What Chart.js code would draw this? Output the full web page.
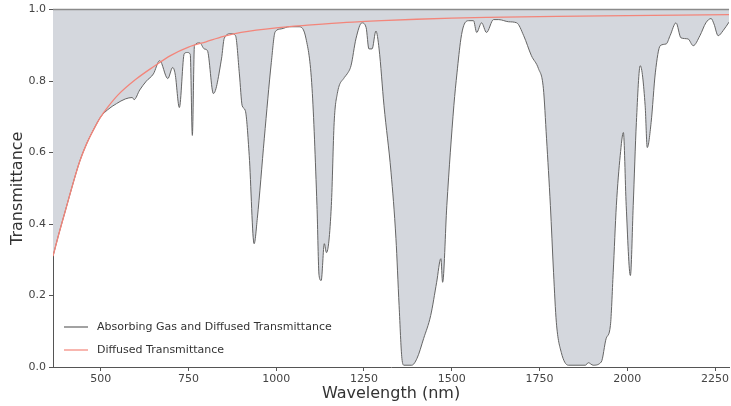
<!DOCTYPE html>
<html>
<head>
<meta charset="utf-8">
<script src="https://cdn.jsdelivr.net/npm/chart.js@4.4.0/dist/chart.umd.min.js"></script>
<style>
  html, body { margin: 0; padding: 0; background: #fff; overflow: hidden; }
  #wrap { width: 731px; height: 406px; }
</style>
</head>
<body>
<div id="wrap"><canvas id="trans"></canvas></div>
<script>
// transmittance with gas absorption bands (nm, fraction)
var absWavelength = [364, 380, 400, 420, 440, 460, 480, 500, 520, 545, 570, 590, 595, 611, 630, 650, 668, 691, 705, 712, 724, 738, 747, 755, 761, 767, 782, 795, 804, 821, 844, 852, 872, 884, 895, 903, 912, 923, 937, 946, 966, 986, 997, 1014, 1037, 1065, 1085, 1102, 1116, 1122, 1128, 1137, 1143, 1157, 1165, 1174, 1194, 1202, 1213, 1227, 1244, 1256, 1264, 1273, 1284, 1293, 1307, 1327, 1341, 1350, 1358, 1364, 1386, 1401, 1420, 1440, 1457, 1469, 1474, 1486, 1506, 1515, 1526, 1534, 1548, 1562, 1571, 1585, 1599, 1619, 1634, 1662, 1685, 1705, 1727, 1747, 1761, 1770, 1781, 1790, 1798, 1812, 1832, 1881, 1889, 1903, 1926, 1940, 1952, 1960, 1969, 1980, 1989, 1997, 2009, 2017, 2026, 2037, 2051, 2057, 2068, 2080, 2094, 2111, 2122, 2139, 2153, 2173, 2188, 2207, 2224, 2239, 2247, 2259, 2273, 2290];
var absTransmittance = [0.31, 0.37, 0.44, 0.51, 0.575, 0.625, 0.665, 0.70, 0.72, 0.737, 0.75, 0.754, 0.748, 0.775, 0.80, 0.82, 0.857, 0.807, 0.838, 0.82, 0.726, 0.877, 0.88, 0.875, 0.648, 0.90, 0.907, 0.89, 0.885, 0.765, 0.862, 0.92, 0.933, 0.927, 0.82, 0.731, 0.717, 0.592, 0.345, 0.415, 0.64, 0.852, 0.938, 0.946, 0.952, 0.952, 0.918, 0.78, 0.452, 0.256, 0.242, 0.345, 0.32, 0.452, 0.684, 0.765, 0.81, 0.82, 0.843, 0.918, 0.963, 0.95, 0.89, 0.89, 0.94, 0.89, 0.731, 0.545, 0.36, 0.172, 0.024, 0.005, 0.005, 0.024, 0.08, 0.144, 0.237, 0.303, 0.237, 0.452, 0.731, 0.823, 0.918, 0.955, 0.969, 0.969, 0.936, 0.963, 0.936, 0.972, 0.972, 0.966, 0.963, 0.927, 0.871, 0.835, 0.78, 0.64, 0.452, 0.265, 0.125, 0.041, 0.005, 0.005, 0.012, 0.005, 0.014, 0.08, 0.116, 0.265, 0.452, 0.592, 0.656, 0.452, 0.256, 0.452, 0.684, 0.843, 0.731, 0.614, 0.684, 0.823, 0.899, 0.904, 0.927, 0.963, 0.921, 0.918, 0.899, 0.927, 0.963, 0.975, 0.96, 0.927, 0.941, 0.965];

// scattering-only transmittance
var difWavelength = [364, 380, 400, 420, 440, 460, 480, 500, 520, 550, 600, 650, 700, 750, 800, 850, 900, 1000, 1100, 1200, 1300, 1400, 1500, 1600, 1800, 2000, 2290];
var difTransmittance = [0.31, 0.37, 0.44, 0.51, 0.575, 0.625, 0.665, 0.70, 0.727, 0.762, 0.805, 0.84, 0.872, 0.895, 0.91, 0.925, 0.936, 0.949, 0.957, 0.964, 0.969, 0.973, 0.976, 0.978, 0.981, 0.983, 0.986];

var xTicks = [500, 750, 1000, 1250, 1500, 1750, 2000, 2250];

function toPoints(xs, ys) {
  var pts = [];
  for (var i = 0; i < xs.length; i++) pts.push({x: xs[i], y: ys[i]});
  return pts;
}

var fontFamily = "'DejaVu Sans', sans-serif";

// legend sits inside the plot, lower left, without a frame
var insideLegend = {
  id: 'insideLegend',
  afterDatasetsDraw: function(chart) {
    var ctx = chart.ctx;
    var ds = chart.data.datasets;
    ctx.save();
    ctx.font = '11px ' + fontFamily;
    ctx.textBaseline = 'middle';
    for (var i = 0; i < ds.length; i++) {
      var y = 327 + i * 23;
      ctx.strokeStyle = ds[i].borderColor;
      ctx.lineWidth = 1.2;
      ctx.beginPath();
      ctx.moveTo(64, y);
      ctx.lineTo(88, y);
      ctx.stroke();
      ctx.fillStyle = '#333';
      ctx.fillText(ds[i].label, 97, y + 0.5);
    }
    ctx.restore();
  }
};

// top spine
var topSpine = {
  id: 'topSpine',
  afterDraw: function(chart) {
    var a = chart.chartArea, ctx = chart.ctx;
    ctx.save();
    ctx.strokeStyle = '#8a8a8a';
    ctx.lineWidth = 1.5;
    ctx.beginPath();
    ctx.moveTo(a.left, a.top);
    ctx.lineTo(a.right, a.top);
    ctx.stroke();
    ctx.restore();
  }
};

var ctx = document.getElementById('trans');
var chart = new Chart(ctx, {
  type: 'line',
  data: {
    datasets: [
      {
        label: 'Absorbing Gas and Diffused Transmittance',
        data: toPoints(absWavelength, absTransmittance),
        borderColor: '#656565',
        borderWidth: 1,
        backgroundColor: '#d4d7dd',
        fill: 'end',
        pointRadius: 0,
        cubicInterpolationMode: 'monotone',
        order: 2
      },
      {
        label: 'Diffused Transmittance',
        data: toPoints(difWavelength, difTransmittance),
        borderColor: '#f3857a',
        borderWidth: 1.3,
        fill: false,
        pointRadius: 0,
        cubicInterpolationMode: 'monotone',
        order: 1
      }
    ]
  },
  options: {
    responsive: true,
    maintainAspectRatio: false,
    animation: false,
    layout: { padding: { top: 9, right: 0, left: 0, bottom: 0 } },
    plugins: {
      legend: { display: false },
      tooltip: { enabled: false }
    },
    scales: {
      x: {
        type: 'linear',
        min: 364,
        max: 2290,
        afterBuildTicks: function(scale) {
          scale.ticks = xTicks.map(function(v) { return {value: v}; });
        },
        afterFit: function(scale) { scale.height = 39; },
        ticks: {
          font: { family: fontFamily, size: 11 },
          color: '#444',
          padding: 2,
          maxRotation: 0,
          callback: function(v) { return String(v); }
        },
        grid: { drawOnChartArea: false, drawTicks: true, tickLength: 4, color: '#555' },
        border: { color: '#555', width: 1 },
        title: {
          display: true,
          text: 'Wavelength (nm)',
          font: { family: fontFamily, size: 16 },
          color: '#333',
          padding: { top: 0, bottom: 3 }
        }
      },
      y: {
        min: 0,
        max: 1,
        afterFit: function(scale) { scale.width = 53; },
        ticks: {
          stepSize: 0.2,
          font: { family: fontFamily, size: 11 },
          color: '#444',
          padding: 3,
          callback: function(v) { return v.toFixed(1); }
        },
        grid: { drawOnChartArea: false, drawTicks: true, tickLength: 4, color: '#555' },
        border: { color: '#555', width: 1 },
        title: {
          display: true,
          text: 'Transmittance',
          font: { family: fontFamily, size: 16 },
          color: '#333',
          padding: { top: 8, bottom: 0 }
        }
      }
    }
  },
  plugins: [insideLegend, topSpine]
});
</script>
</body>
</html>
